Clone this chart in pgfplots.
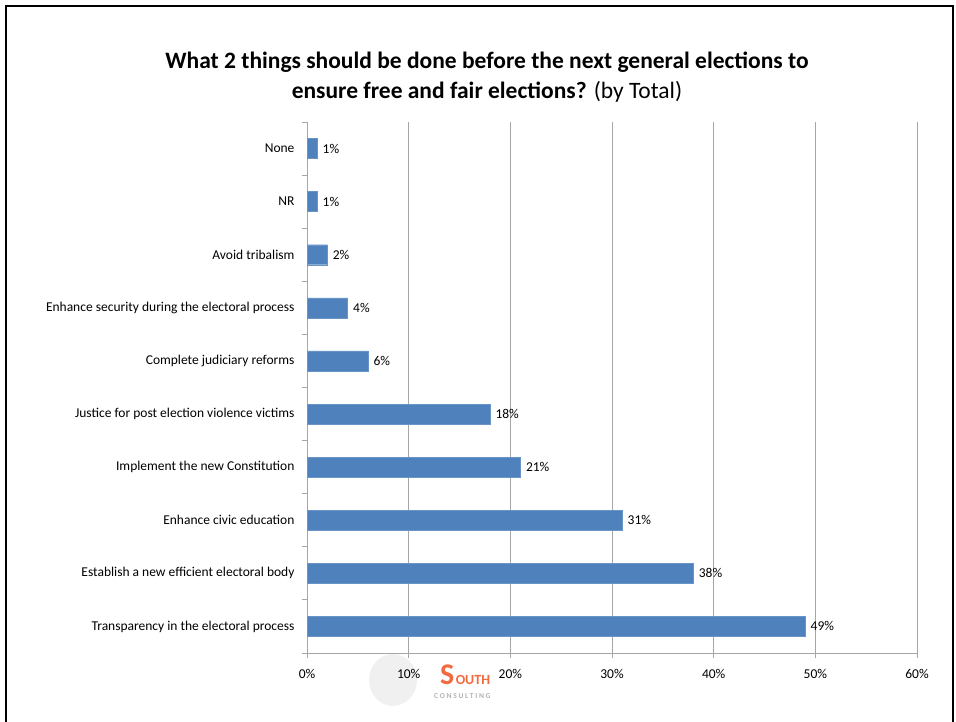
\documentclass[border=0pt]{standalone}
\usepackage{pgfplots}
\pgfplotsset{compat=1.18}
\usepackage{fontspec}
\setmainfont{Carlito}
\definecolor{barblue}{HTML}{4F81BD}
\definecolor{gridgray}{HTML}{A6A6A6}
\definecolor{southorange}{HTML}{F26A3F}
\begin{document}
\begin{tikzpicture}[x=1pt,y=1pt]
\path[use as bounding box] (0,0) rectangle (956,722);
\draw[line width=1.5pt] (6,-2) -- (6,716) -- (953,716) -- (953,-2);
\node[align=center,font=\fontsize{23.5}{30}\selectfont] at (487,645)
  {\textbf{What 2 things should be done before the next general elections to}\\
   \textbf{ensure free and fair elections?} (by Total)};
\fill[gray!12] (393,42) ellipse (24 and 26);
\begin{axis}[
  at={(307pt,69pt)}, anchor=south west,
  scale only axis, width=610pt, height=531pt,
  xbar, bar width=20pt,
  xmin=0, xmax=60,
  ymin=-0.5, ymax=9.5,
  xtick={0,10,...,60},
  xticklabels={0\%,10\%,20\%,30\%,40\%,50\%,60\%},
  ytick={0,...,9},
  yticklabels={Transparency in the electoral process,
    Establish a new efficient electoral body,
    Enhance civic education,
    Implement the new Constitution,
    Justice for post election violence victims,
    Complete judiciary reforms,
    Enhance security during the electoral process,
    Avoid tribalism, NR, None},
  minor ytick={-0.5,0.5,...,9.5},
  axis x line*=bottom, axis y line*=left,
  axis line style={gridgray, line width=0.8pt},
  xmajorgrids, major grid style={gridgray, line width=0.8pt},
  major tick length=5pt, minor tick length=5pt,
  tick align=outside,
  major y tick style={draw=none},
  minor y tick style={gridgray, line width=0.8pt},
  major x tick style={gridgray, line width=0.8pt},
  tick label style={font=\fontsize{13.5}{15}\selectfont},
  /pgf/number format/assume math mode=true,
  xticklabel style={yshift=-8pt},
  yticklabel style={xshift=-4pt},
  nodes near coords={\pgfmathprintnumber{\pgfplotspointmeta}\%},
  nodes near coords style={font=\fontsize{13.5}{15}\selectfont, anchor=west, xshift=2pt},
  point meta=x,
  clip=false,
]
\addplot[fill=barblue, draw=barblue!85!white] coordinates {
  (49,0) (38,1) (31,2) (21,3) (18,4) (6,5) (4,6) (2,7) (1,8) (1,9)};
\end{axis}
\node[anchor=base west, inner sep=0pt, text=southorange, font=\fontsize{30}{30}\selectfont\bfseries] (S) at (440,37) {S};
\node[anchor=base west, inner sep=0pt, text=southorange, font=\fontsize{14}{14}\selectfont\bfseries] at ([xshift=1pt]S.base east) {OUTH};
\node[anchor=west, inner sep=0pt, text=gray!60, font=\fontsize{7.5}{7.5}\selectfont\bfseries] at (434,26) {C O N S U L T I N G};
\end{tikzpicture}
\end{document}
